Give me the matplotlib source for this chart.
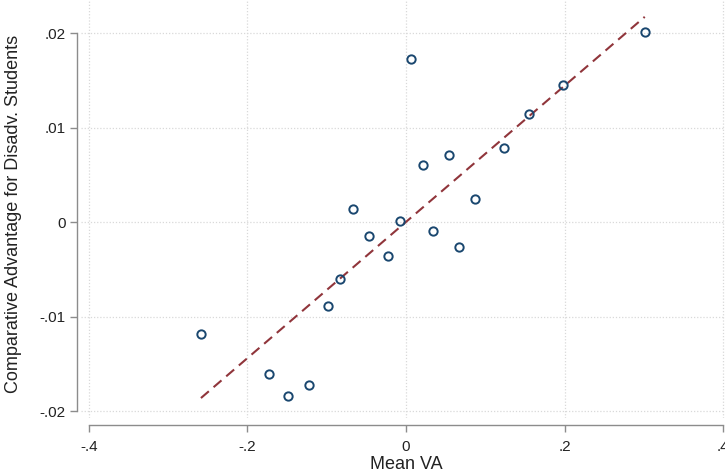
import matplotlib
matplotlib.use("Agg")
import matplotlib.pyplot as plt
import numpy as np

plt.rcParams['font.family'] = ['Liberation Sans', 'DejaVu Sans']

mean_va = [-0.2587, -0.1729, -0.1489, -0.1224, -0.0984, -0.0833, -0.0669, -0.0467,
           -0.0227, -0.0076, 0.0059, 0.0211, 0.0539, 0.0345, 0.0673, 0.0875,
           0.1241, 0.1548, 0.1985, 0.3012]
comp_adv = [-0.01185, -0.01608, -0.01841, -0.01725, -0.00889, -0.00603, 0.00138, -0.00148,
            -0.00360, 0.00010, 0.01722, 0.00600, 0.00709, -0.00095, -0.00261, 0.00243,
            0.00786, 0.01146, 0.01447, 0.02014]
fit_x = [-0.2587, 0.3012]
fit_y = [-0.01859, 0.02172]

xticks = [-0.4, -0.2, 0.0, 0.2, 0.4]
xticklabels = ['-.4', '-.2', '0', '.2', '.4']
yticks = [-0.02, -0.01, 0.0, 0.01, 0.02]
yticklabels = ['-.02', '-.01', '0', '.01', '.02']

W, H = 725, 475
fig = plt.figure(figsize=(W / 100, H / 100), dpi=100)
# pixel geometry
x0px, x1px = 81, 731
y0px, y1px = 418, 0
ax = fig.add_axes([x0px / W, (H - y0px) / H, (x1px - x0px) / W, (y0px - y1px) / H])
ax.set_xlim(-0.41, 0.41)
ax.set_ylim(-0.0207, 0.0235)

ax.grid(True, color='#d9d9d9', linestyle=(0, (1, 1.5)), linewidth=0.9)
ax.set_axisbelow(True)

ax.plot(fit_x, fit_y, color='#90353b', linestyle=(0, (5, 3)), linewidth=1.5, zorder=2)
ax.plot(mean_va, comp_adv, linestyle='none', marker='o', markersize=6,
        markerfacecolor='none', markeredgecolor='#1a476f', markeredgewidth=1.4, zorder=3)

for s in ['top', 'right']:
    ax.spines[s].set_visible(False)
ax.spines['left'].set_position(('outward', 3))
ax.spines['bottom'].set_position(('outward', 5))
ax.spines['left'].set_bounds(-0.02, 0.02)
ax.spines['bottom'].set_bounds(-0.4, 0.4)
for s in ['left', 'bottom']:
    ax.spines[s].set_color('#8c8c8c')
    ax.spines[s].set_linewidth(1.0)

ax.set_xticks(xticks)
ax.set_xticklabels(xticklabels)
ax.set_yticks(yticks)
ax.set_yticklabels(yticklabels)
ax.tick_params(axis='both', colors='#8c8c8c', labelcolor='#222222', length=5, width=1.0,
               labelsize=11)
ax.tick_params(axis='y', pad=3)
ax.tick_params(axis='x', pad=6)

ax.set_xlabel('Mean VA', fontsize=13, color='#222222', labelpad=1)
ax.set_ylabel('Comparative Advantage for Disadv. Students', fontsize=13, color='#222222')
ax.yaxis.set_label_coords(-0.091, 0.488)

fig.savefig('out.png', dpi=100)
